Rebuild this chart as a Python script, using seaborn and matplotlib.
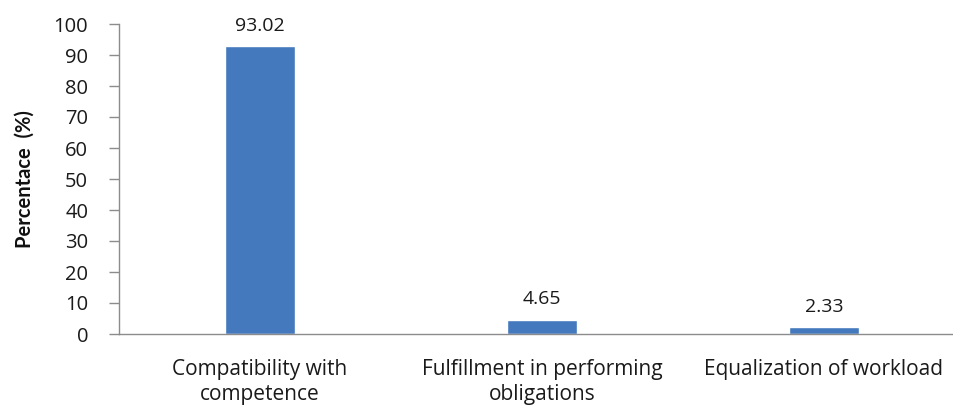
import matplotlib
matplotlib.use("Agg")
import matplotlib.pyplot as plt
import seaborn as sns
import pandas as pd

categories = ["Compatibility with\ncompetence",
              "Fulfillment in performing\nobligations",
              "Equalization of workload"]
values = [93.02, 4.65, 2.33]
value_labels = ["93.02", "4.65", "2.33"]
yticks = [0, 10, 20, 30, 40, 50, 60, 70, 80, 90, 100]

sns.set_theme(style="white")
plt.rcParams['font.family'] = ['Open Sans', 'DejaVu Sans']

df = pd.DataFrame({"cat": categories, "val": values})

fig = plt.figure(figsize=(9.54, 4.05), dpi=100)
ax = fig.add_axes([119/954, (405-334)/405, 846/954, 310/405])
sns.barplot(data=df, x="cat", y="val", color="#4479BE", width=0.25,
            saturation=1, ax=ax)
for p, lab in zip(ax.patches, value_labels):
    ax.annotate(lab, (p.get_x() + p.get_width()/2, p.get_height()),
                xytext=(0, 8), textcoords="offset points",
                ha="center", va="bottom", fontsize=14, color="#1a1a1a")

ax.set_xlim(-0.5, 2.5)
ax.set_ylim(0, 100)
ax.set_yticks(yticks)
ax.set_yticklabels([str(t) for t in yticks], fontsize=14.5, color="#1a1a1a")
ax.tick_params(axis="y", left=True, length=7.2, width=1, color="#8c8c8c", pad=15)
ax.tick_params(axis="x", bottom=False, pad=12, labelsize=15, labelcolor="#1a1a1a")
for lab in ax.get_xticklabels():
    lab.set_linespacing(1.25)
    lab.set_verticalalignment("top")
ax.set_xlabel("")
ax.set_ylabel("Percentace  (%)", fontsize=14.5, fontweight="bold",
              family=["Lato", "DejaVu Sans"], color="#111111")
ax.yaxis.set_label_coords(-0.1, 0.5)
for s in ["top", "right"]:
    ax.spines[s].set_visible(False)
for s in ["left", "bottom"]:
    ax.spines[s].set_color("#8c8c8c")
    ax.spines[s].set_linewidth(1)

fig.savefig("out.png", dpi=100)
